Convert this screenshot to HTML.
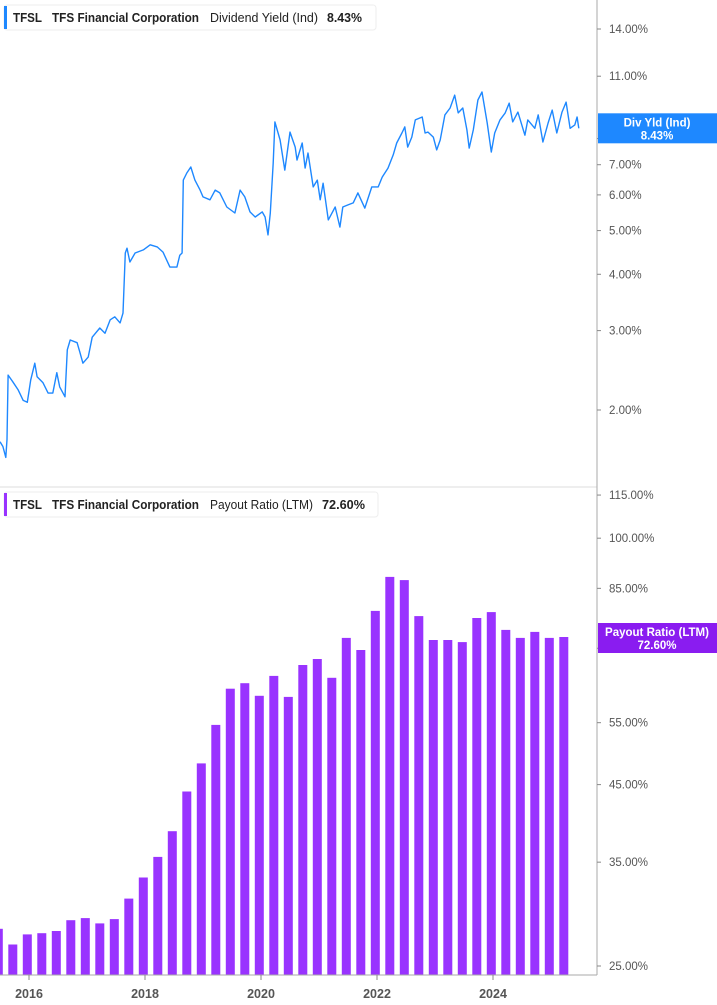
<!DOCTYPE html>
<html><head><meta charset="utf-8"><style>
body{margin:0;background:#fff;font-family:"Liberation Sans",sans-serif}
svg{display:block}
</style></head><body>
<svg id="chart" width="717" height="1005" xmlns="http://www.w3.org/2000/svg" font-family="Liberation Sans, sans-serif">
<g id="topPanel"></g>
<g id="bottomPanel"></g>
<line x1="0" y1="487" x2="597" y2="487" stroke="#ddd"/>
<line x1="597" y1="0" x2="597" y2="975" stroke="#aaa"/>
<line x1="0" y1="975" x2="597" y2="975" stroke="#aaa"/>
<g id="xaxis"></g>
<g>
<rect x="4" y="5" width="372" height="25" rx="3" fill="#fff" stroke="#eee"/>
<rect x="4" y="6" width="3" height="23" fill="#1e88ff"/>
<text x="13" y="22" font-size="12.5" font-weight="bold" fill="#222" textLength="29" lengthAdjust="spacingAndGlyphs">TFSL</text>
<text x="52" y="22" font-size="12.5" font-weight="bold" fill="#222" textLength="147" lengthAdjust="spacingAndGlyphs">TFS Financial Corporation</text>
<text x="210" y="22" font-size="12.5" fill="#222" textLength="108" lengthAdjust="spacingAndGlyphs">Dividend Yield (Ind)</text>
<text x="327" y="22" font-size="12.5" font-weight="bold" fill="#222" textLength="35" lengthAdjust="spacingAndGlyphs">8.43%</text>
</g>
<g>
<rect x="4" y="492" width="374" height="25" rx="3" fill="#fff" stroke="#eee"/>
<rect x="4" y="493" width="3" height="23" fill="#9933ff"/>
<text x="13" y="509" font-size="12.5" font-weight="bold" fill="#222" textLength="29" lengthAdjust="spacingAndGlyphs">TFSL</text>
<text x="52" y="509" font-size="12.5" font-weight="bold" fill="#222" textLength="147" lengthAdjust="spacingAndGlyphs">TFS Financial Corporation</text>
<text x="210" y="509" font-size="12.5" fill="#222" textLength="103" lengthAdjust="spacingAndGlyphs">Payout Ratio (LTM)</text>
<text x="322" y="509" font-size="12.5" font-weight="bold" fill="#222" textLength="43" lengthAdjust="spacingAndGlyphs">72.60%</text>
</g>
</svg>
<script>
const divDates=[2015.50,2015.55,2015.60,2015.62,2015.64,2015.72,2015.81,2015.90,2015.97,2016.03,2016.10,2016.14,2016.24,2016.33,2016.41,2016.48,2016.53,2016.62,2016.66,2016.71,2016.83,2016.88,2016.93,2017.02,2017.09,2017.22,2017.31,2017.40,2017.48,2017.57,2017.62,2017.66,2017.69,2017.74,2017.83,2017.97,2018.09,2018.21,2018.31,2018.43,2018.55,2018.60,2018.64,2018.66,2018.72,2018.79,2018.86,2018.95,2019.00,2019.12,2019.21,2019.29,2019.41,2019.55,2019.64,2019.72,2019.81,2019.90,2020.02,2020.07,2020.12,2020.16,2020.21,2020.24,2020.33,2020.41,2020.50,2020.59,2020.62,2020.71,2020.76,2020.81,2020.90,2020.97,2021.02,2021.07,2021.16,2021.28,2021.36,2021.41,2021.50,2021.59,2021.67,2021.79,2021.91,2022.02,2022.09,2022.19,2022.28,2022.34,2022.43,2022.48,2022.53,2022.60,2022.66,2022.78,2022.83,2022.88,2022.97,2023.03,2023.09,2023.17,2023.26,2023.34,2023.40,2023.48,2023.55,2023.59,2023.66,2023.74,2023.81,2023.90,2023.97,2024.03,2024.12,2024.21,2024.28,2024.34,2024.43,2024.55,2024.60,2024.72,2024.78,2024.86,2024.95,2025.02,2025.10,2025.19,2025.26,2025.33,2025.41,2025.45,2025.48];
const divYield=[1.70,1.66,1.57,1.72,2.39,2.31,2.22,2.10,2.08,2.33,2.54,2.37,2.30,2.18,2.18,2.42,2.25,2.14,2.72,2.86,2.82,2.68,2.54,2.62,2.90,3.04,2.96,3.17,3.22,3.12,3.28,4.46,4.57,4.26,4.46,4.53,4.65,4.60,4.48,4.15,4.15,4.41,4.46,6.47,6.71,6.92,6.47,6.15,5.94,5.85,6.15,6.06,5.64,5.47,6.15,5.94,5.50,5.36,5.50,5.36,4.89,5.47,7.06,8.71,7.94,6.81,8.27,7.66,7.17,7.82,6.88,7.43,6.25,6.47,5.85,6.37,5.28,5.64,5.09,5.64,5.70,5.76,6.06,5.61,6.25,6.25,6.57,6.88,7.36,7.82,8.23,8.49,7.66,8.06,8.80,8.93,8.23,8.27,8.06,7.55,7.94,9.03,9.35,9.99,9.12,9.35,8.36,7.62,8.36,9.74,10.15,8.66,7.47,8.23,8.80,9.12,9.59,8.71,9.16,8.14,8.80,8.43,9.03,7.86,8.66,9.25,8.23,9.16,9.64,8.43,8.58,8.93,8.43];
const quarterStart=2015.47;
const payout=[28.2,26.8,27.7,27.8,28.0,29.0,29.2,28.7,29.1,31.1,33.3,35.6,38.7,44.0,48.2,54.6,61.4,62.5,60.0,64.0,59.8,66.3,67.6,63.6,72.4,69.6,79.0,88.2,87.3,77.7,71.9,71.9,71.4,77.2,78.7,74.3,72.4,73.8,72.4,72.6];
const topTicks=[14,11,8,7,6,5,4,3,2];
const botTicks=[115,100,85,70,55,45,35,25];
const xTicks=[2016,2018,2020,2022,2024];

const NS="http://www.w3.org/2000/svg";
function mk(tag,attrs,parent){const e=document.createElementNS(NS,tag);for(const k in attrs)e.setAttribute(k,attrs[k]);parent.appendChild(e);return e;}
const xS=t=>29+(t-2016)*58;
const yTop=v=>410-195.8*Math.log(v/2);
const yBot=v=>966-308.6*Math.log(v/25);
const gTop=document.getElementById('topPanel'),gBot=document.getElementById('bottomPanel'),gX=document.getElementById('xaxis'),svgEl=document.getElementById('chart');

const pathD=divDates.map((t,i)=>(i?'L':'M')+xS(t).toFixed(1)+','+yTop(divYield[i]).toFixed(1)).join('');
const line=mk('path',{d:pathD,fill:'none',stroke:'#1e88ff','stroke-width':1.4,'stroke-linejoin':'round'},gTop);



payout.forEach((v,i)=>{const cx=xS(quarterStart+i*0.25);const y=yBot(v);
 const r=mk('rect',{x:(cx-4.5).toFixed(1),y:y.toFixed(1),width:9,height:(975-y).toFixed(1),fill:'#9933ff'},gBot);
 
 });

function ytick(v,y){const g=mk('g',{},svgEl);
 
 
 mk('line',{x1:597,y1:y,x2:601,y2:y,stroke:'#888'},g);
 const t=mk('text',{x:609,y:y+4,'font-size':11.5,fill:'#555'},g);t.textContent=v.toFixed(2)+'%';}
topTicks.forEach(v=>ytick(v,yTop(v)));
botTicks.forEach(v=>ytick(v,yBot(v)));
xTicks.forEach(t=>{const x=xS(t);
 const g=mk('g',{},gX);
 
 
 mk('line',{x1:x,y1:975,x2:x,y2:980,stroke:'#888'},g);
 const tx=mk('text',{x:x,y:998,'font-size':12.5,'font-weight':'bold',fill:'#555','text-anchor':'middle'},g);tx.textContent=t;});

function badge(y,color,l1,l2,name){const g=mk('g',{},svgEl);
 
 
 mk('rect',{x:598,y:y,width:119,height:30,fill:color},g);
 const a=mk('text',{x:657,y:y+13,'font-size':11.5,'font-weight':'bold',fill:'#fff','text-anchor':'middle'},g);a.textContent=l1;
 const b=mk('text',{x:657,y:y+26,'font-size':11.5,'font-weight':'bold',fill:'#fff','text-anchor':'middle'},g);b.textContent=l2;}
badge(yTop(divYield[divYield.length-1])-15,'#1e88ff','Div Yld (Ind)','8.43%','div-yield-badge');
badge(yBot(payout[payout.length-1])-14,'#8a1cf0','Payout Ratio (LTM)','72.60%','payout-badge');
</script>
</body></html>
